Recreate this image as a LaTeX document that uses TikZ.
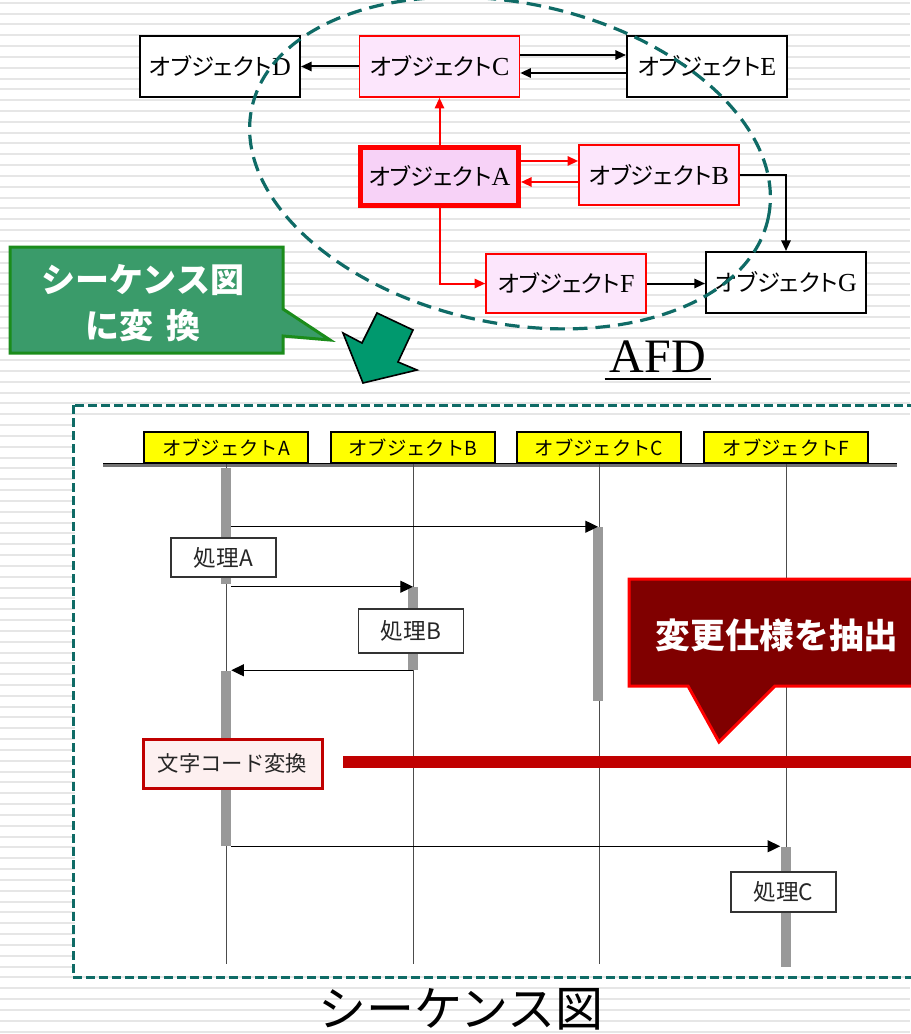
\documentclass[tikz,border=0pt]{standalone}
\usepackage{fontspec}
\setmainfont{Liberation Serif}
\newfontfamily\jp{Noto Sans CJK JP}
\newfontfamily\jpp{Noto Sans CJK JP}[RawFeature=+palt]
\usetikzlibrary{arrows.meta,calc}
\definecolor{tealD}{HTML}{0F6B66}
\definecolor{gfill}{HTML}{3A9B6A}
\definecolor{gline}{HTML}{1B8C1B}
\definecolor{garrow}{HTML}{00996E}
\definecolor{maroonR}{HTML}{800000}
\definecolor{darkR}{HTML}{C00000}
\definecolor{pinkC}{HTML}{FCE6FC}
\definecolor{pinkA}{HTML}{F7D2F7}
\definecolor{pinkT}{HTML}{FDF0F0}
\definecolor{barG}{HTML}{999999}
\definecolor{stripeG}{HTML}{E6E6E6}
\definecolor{hdrY}{HTML}{FFFF00}
\newcommand\ob[1]{{\jpp オブジェクト}{\fontsize{19.5}{20}\selectfont #1}}
\begin{document}
\begin{tikzpicture}[x=0.75pt,y=-0.75pt,
  stripe/.style={draw=stripeG, line width=1.5pt},
  afd/.style={draw=black, line width=1.5pt, fill=white, minimum width=120pt, minimum height=45.75pt, inner sep=0pt, font=\fontsize{17.5}{20}\selectfont},
  afdr/.style={afd, draw=red, line width=1.2pt, fill=pinkC},
  ba/.style={draw=black, line width=1.5pt, -{Triangle[length=8pt,width=7pt]}},
  ra/.style={ba, draw=red},
  ell/.style={draw=tealD, line width=2.4pt, dash pattern=on 11pt off 6pt},
  hdr/.style={draw=black, line width=1.5pt, fill=hdrY, minimum width=123pt, minimum height=23.25pt, inner sep=0pt, font=\jp\fontsize{14.5}{16}\selectfont},
  life/.style={draw=black!70, line width=0.75pt},
  bar/.style={fill=barG, draw=none, minimum width=7.5pt, inner sep=0pt},
  msg/.style={draw=black, line width=0.9pt, -{Triangle[length=9.5pt,width=9pt]}},
  proc/.style={draw=black!80, line width=0.9pt, fill=white, inner sep=0pt, minimum width=78.75pt, font=\jp\fontsize{17}{20}\selectfont, text=black!85},
  txt/.style={inner sep=0pt}
]
\fill[white] (0,0) rectangle (910,1034);
\useasboundingbox (0,0) rectangle (910,1034);
\foreach \k in {0,...,95} \draw[stripe] (0,{2.7+10.83*\k}) -- (910,{2.7+10.83*\k});

% ---------- AFD ----------
\node[afd] (D) at (220,66.5) {\ob{D}};
\node[afdr] (C) at (439.5,66.5) {\ob{C}};
\node[afd] (E) at (707,66.5) {\ob{E}};
\node[afdr, line width=3.75pt, minimum width=118.5pt, minimum height=43.5pt, fill=pinkA] (A) at (439.5,176.5) {\ob{A}};
\node[afdr, minimum height=45pt] (B) at (659,175) {\ob{B}};
\node[afdr, minimum height=44.25pt] (F) at (566,283.5) {\ob{F}};
\node[afd] (G) at (786,282.5) {\ob{G}};

\draw[ba] (C.west) -- (D.east);
\draw[ba] ($(C.east)+(0,-11.5)$) coordinate (ce1) -- (ce1 -| E.west);
\draw[ba] ($(E.west)+(0,6.5)$) coordinate (ec1) -- (ec1 -| C.east);
\draw[ra] (A.north) -- (C.south);
\draw[ra] ($(A.east)+(0,-15.5)$) coordinate (ab1) -- (ab1 -| B.west);
\draw[ra] ($(B.west)+(0,7)$) coordinate (ba1) -- (ba1 -| A.east);
\draw[ra] (A.south) |- (F.west);
\draw[ba] (B.east) -| (G.north);
\draw[ba] (F.east) -- (G.west |- F.east);

\draw[ell, rotate around={-12:(510,163)}] (510,163) ellipse [x radius=264, y radius=160];

% green callout
\draw[fill=gfill, draw=gline, line width=2.25pt, line join=miter]
  (10,247) -- (283,247) -- (283,309) -- (330,340) -- (283,336) -- (283,353) -- (10,353) -- cycle;
\node[txt, align=center, text=white, font=\jp\bfseries\fontsize{25.5}{35}\selectfont] (gtext) at (143,303) {シーケンス図\\に変\hspace{0.4em}換};

% block arrow
\draw[fill=garrow, draw=black, line width=1.2pt, line join=miter]
  (377,313) -- (413,330) -- (398,362) -- (417,370) -- (363,383) -- (343,333) -- (362,343) -- cycle;

% AFD label
\node[txt, anchor=base, font=\fontsize{36}{40}\selectfont] (afd) at (658,372) {AFD};
\draw[line width=1.8pt] ($(afd.base west)+(-5,7)$) -- ($(afd.base east)+(5,7)$);

% ---------- sequence ----------
\fill[white] (75,418) rectangle (915,975);

\node[hdr] (hA) at (226,447.5) {オブジェクトA};
\node[hdr] (hB) at (413,447.5) {オブジェクトB};
\node[hdr] (hC) at (599,447.5) {オブジェクトC};
\node[hdr] (hF) at (786,447.5) {オブジェクトF};
\draw[black!55, line width=2pt] (103,465.5) -- (897,465.5);
\draw[black, line width=0.8pt] (103,463.5) -- (897,463.5);

\coordinate (eA) at (226,964);
\coordinate (eB) at (413,964);
\coordinate (eC) at (599,964);
\coordinate (eF) at (786,964);
\draw[life] (hA.south) -- (eA);
\draw[life] (hB.south) -- (eB);
\draw[life] (hC.south) -- (eC);
\draw[life] (hF.south) -- (eF);

\node[bar, minimum height=87pt] (barA1) at (226,526) {};
\node[bar, minimum height=62.25pt] (barB) at (413,628.5) {};
\node[bar, minimum height=131.25pt] (barA2) at (226,758.5) {};
\node[bar, minimum height=130.5pt] (barC) at (598,614) {};
\node[bar, minimum height=90pt] (barF) at (785.5,907) {};

\draw[msg] (barA1.east |- barC.north) -- (barC.north);
\draw[msg] (barA1.east |- barB.north) -- (barB.north);
\draw[msg] (barB.south) -- (barB.south -| barA2.east);
\draw[msg] (barA2.south east) -- (barA2.south east -| barF.west);

\node[proc, minimum height=29.25pt] (pA) at (223.5,557.5) {処理A};
\node[proc, minimum height=33pt] (pB) at (411,631) {処理B};
\node[proc, minimum height=30pt] (pC) at (783.5,892) {処理C};
\node[proc, draw=darkR, line width=2.25pt, fill=pinkT, minimum width=134.25pt, minimum height=36.75pt, font=\jp\fontsize{16}{18}\selectfont] (moji) at (232.5,763.5) {文字コード変換};

\fill[darkR] (343,756) rectangle (915,768);

% red callout
\draw[fill=maroonR, draw=red, line width=2.25pt, line join=miter]
  (629,579) -- (915,579) -- (915,686) -- (775,686) -- (719,742) -- (688,686) -- (629,686) -- cycle;
\node[txt, text=white, font=\jp\bfseries\fontsize{26}{30}\selectfont] (rtext) at (777,635) {変更仕様を抽出};

\draw[draw=tealD, line width=2.25pt, dash pattern=on 6.75pt off 3pt] (73,405) rectangle (930,977);

\node[txt, font=\jp\fontsize{36}{40}\selectfont] (title) at (461,1009) {シーケンス図};
\end{tikzpicture}
\end{document}
